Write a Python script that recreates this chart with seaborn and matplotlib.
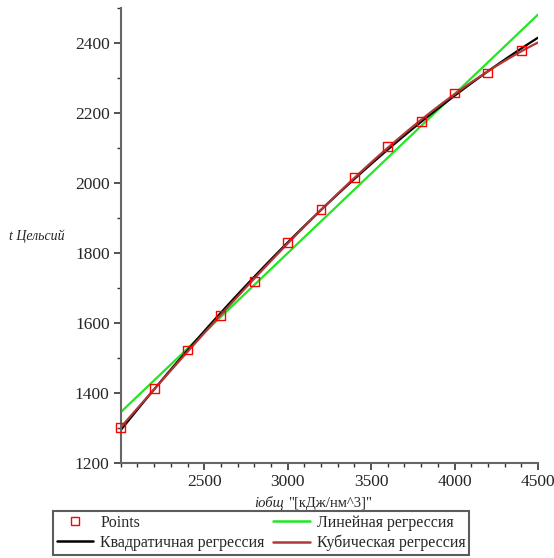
import numpy as np
import pandas as pd
import matplotlib
matplotlib.use("Agg")
import matplotlib.pyplot as plt
from matplotlib.ticker import MultipleLocator
from matplotlib.lines import Line2D
import seaborn as sns

# --- данные ---
i_obsh = [2000, 2200, 2400, 2600, 2800, 3000, 3200, 3400, 3600, 3800, 4000, 4200, 4400]
t_cels = [1301, 1412, 1523, 1621, 1719, 1830, 1925, 2016, 2103, 2175, 2257, 2314, 2378]

df = pd.DataFrame({'i': i_obsh, 't': t_cels})

sns.set_style('white')
plt.rcParams['font.family'] = ['Liberation Serif', 'DejaVu Serif']

fig = plt.figure(figsize=(5.54, 5.58), dpi=100)
ax = fig.add_axes([0.218, 0.170, 0.753, 0.816])
ax.set_xlim(2000, 4500)
ax.set_ylim(1200, 2500)

green = '#22e622'
brown = '#b03838'

# линии регрессии (полиномы 1, 2, 3 порядка)
sns.regplot(data=df, x='i', y='t', order=1, ci=None, scatter=False, truncate=False,
            color=green, line_kws={'lw': 1.6}, ax=ax)
sns.regplot(data=df, x='i', y='t', order=2, ci=None, scatter=False, truncate=False,
            color='black', line_kws={'lw': 1.6}, ax=ax)
sns.regplot(data=df, x='i', y='t', order=3, ci=None, scatter=False, truncate=False,
            color=brown, line_kws={'lw': 1.6}, ax=ax)
sns.scatterplot(data=df, x='i', y='t', marker='s', s=40, facecolor='none',
                edgecolor='red', linewidth=1.0, ax=ax, zorder=4, clip_on=False)

ax.set_xlim(2000, 4500)
ax.set_ylim(1200, 2500)

for s in ['top', 'right']:
    ax.spines[s].set_visible(False)
for s in ['left', 'bottom']:
    ax.spines[s].set_color('#666666')
    ax.spines[s].set_linewidth(1.5)

ax.set_xticks([2500, 3000, 3500, 4000, 4500])
ax.set_yticks([1200, 1400, 1600, 1800, 2000, 2200, 2400])
ax.xaxis.set_minor_locator(MultipleLocator(100))
ax.yaxis.set_minor_locator(MultipleLocator(100))
ax.tick_params(which='major', length=5, width=1.2, color='#333333', labelsize=12.5, pad=3)
ax.tick_params(which='minor', length=3, width=1.0, color='#333333')
ax.tick_params(left=True, bottom=True, which='both')
ax.set_xlabel('')
ax.set_ylabel('')

fig.text(65 / 554, 1 - 236 / 558, 't Цельсий', style='italic', fontsize=10,
         ha='right', va='center')
fig.text(284 / 554, 1 - 503 / 558, 'iобщ', style='italic', fontsize=10.5,
         ha='right', va='center')
fig.text(288 / 554, 1 - 503 / 558, '"[кДж/нм^3]"', fontsize=10.5,
         ha='left', va='center')

handles = [
    Line2D([], [], ls='none', marker='s', mfc='none', mec='red', ms=6),
    Line2D([], [], color='black', lw=1.8),
    Line2D([], [], color=green, lw=1.8),
    Line2D([], [], color=brown, lw=1.8),
]
labels = ['Points', 'Квадратичная регрессия', 'Линейная регрессия', 'Кубическая регрессия']
leg = fig.legend(handles, labels, ncol=2, loc='lower center',
                 bbox_to_anchor=(0.471, 0.002), fontsize=11.5, frameon=True,
                 fancybox=False, edgecolor='#333333', handlelength=2.3,
                 columnspacing=0.5, handletextpad=0.45, borderpad=0.25,
                 labelspacing=0.25, borderaxespad=0.1)
leg.get_frame().set_linewidth(1.5)

fig.savefig('out.png', dpi=100)
